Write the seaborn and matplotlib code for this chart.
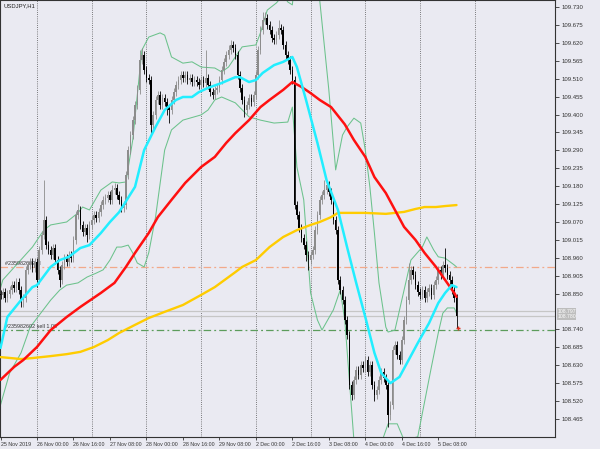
import numpy as np
import pandas as pd
import matplotlib
matplotlib.use("Agg")
import matplotlib.pyplot as plt
import matplotlib.transforms as mtransforms
import seaborn as sns

# ---------------- data (USDJPY, H1) ----------------
closes = [108.846,108.855,108.837,108.849,108.861,108.876,108.867,108.886,108.861,108.830,
108.837,108.923,108.938,108.947,108.929,108.947,108.892,108.984,109.030,109.076,
108.999,108.984,108.969,108.990,108.953,108.923,108.892,108.938,108.959,108.947,
108.969,108.959,109.015,109.092,109.107,109.061,109.039,109.052,109.030,109.061,
109.076,109.092,109.082,109.101,109.122,109.138,109.144,109.153,109.138,109.168,
109.175,109.153,109.138,109.113,109.122,109.214,109.291,109.337,109.383,109.429,
109.476,109.568,109.583,109.537,109.512,109.506,109.368,109.399,109.445,109.460,
109.429,109.451,109.439,109.420,109.414,109.445,109.469,109.491,109.506,109.522,
109.512,109.522,109.506,109.512,109.500,109.506,109.500,109.491,109.506,109.497,
109.512,109.491,109.469,109.460,109.476,109.482,109.506,109.537,109.562,109.583,
109.598,109.614,109.605,109.583,109.522,109.482,109.445,109.414,109.429,109.451,
109.439,109.460,109.522,109.598,109.660,109.691,109.697,109.675,109.660,109.635,
109.629,109.644,109.666,109.660,109.614,109.583,109.568,109.537,109.506,109.122,
109.092,109.052,109.021,108.999,108.969,108.953,108.969,108.984,109.045,109.092,
109.138,109.153,109.168,109.184,109.162,109.138,109.076,109.045,108.892,108.861,
108.830,108.769,108.723,108.569,108.539,108.585,108.615,108.600,108.631,108.622,
108.646,108.609,108.631,108.569,108.539,108.554,108.585,108.609,108.591,108.569,
108.477,108.508,108.677,108.692,108.662,108.646,108.708,108.769,108.830,108.892,
108.923,108.907,108.876,108.855,108.846,108.861,108.837,108.855,108.867,108.846,
108.876,108.892,108.923,108.907,108.938,108.929,108.907,108.892,108.861,108.837,
108.781]
first_open = 108.850

highs = [108.862,108.867,108.867,108.861,108.873,108.888,108.888,108.898,108.898,108.873,
108.849,108.935,108.950,108.960,108.959,108.959,108.959,108.996,109.042,109.199,
109.088,109.011,108.996,109.002,109.002,108.965,108.935,108.950,108.971,108.971,
108.981,108.981,109.027,109.104,109.125,109.119,109.073,109.064,109.064,109.073,
109.088,109.104,109.104,109.113,109.134,109.150,109.156,109.165,109.165,109.184,
109.190,109.187,109.165,109.150,109.134,109.226,109.303,109.349,109.395,109.441,
109.490,109.598,109.605,109.595,109.549,109.524,109.518,109.411,109.457,109.472,
109.472,109.463,109.463,109.451,109.432,109.457,109.481,109.503,109.518,109.534,
109.534,109.534,109.534,109.524,109.524,109.518,109.518,109.512,109.518,109.518,
109.598,109.524,109.503,109.481,109.488,109.494,109.518,109.549,109.574,109.595,
109.614,109.629,109.626,109.617,109.595,109.534,109.494,109.457,109.441,109.463,
109.463,109.472,109.534,109.610,109.672,109.715,109.715,109.709,109.687,109.672,
109.647,109.656,109.691,109.678,109.672,109.626,109.595,109.580,109.549,109.518,
109.134,109.104,109.064,109.033,109.011,108.981,108.981,108.996,109.057,109.104,
109.150,109.165,109.199,109.196,109.196,109.174,109.150,109.088,109.057,108.904,
108.873,108.842,108.781,108.735,108.581,108.597,108.627,108.627,108.643,108.643,
108.658,108.658,108.643,108.643,108.581,108.566,108.597,108.621,108.621,108.603,
108.581,108.520,108.689,108.704,108.704,108.674,108.720,108.781,108.842,108.944,
108.935,108.935,108.919,108.888,108.867,108.873,108.873,108.867,108.879,108.879,
108.888,108.904,108.935,108.935,108.950,108.990,108.941,108.919,108.904,108.873,
108.849]

lows = [108.834,108.834,108.825,108.825,108.837,108.849,108.855,108.855,108.849,108.809,
108.809,108.825,108.911,108.926,108.917,108.917,108.870,108.880,108.972,109.018,
108.987,108.972,108.957,108.957,108.941,108.911,108.870,108.880,108.926,108.935,
108.935,108.947,108.947,109.003,109.080,109.049,109.027,109.027,109.009,109.018,
109.049,109.064,109.070,109.070,109.089,109.110,109.126,109.132,109.126,109.126,
109.156,109.141,109.126,109.101,109.101,109.110,109.202,109.279,109.325,109.371,
109.417,109.464,109.556,109.525,109.500,109.494,109.337,109.350,109.387,109.433,
109.417,109.417,109.427,109.400,109.375,109.402,109.433,109.457,109.479,109.494,
109.500,109.500,109.494,109.494,109.488,109.488,109.488,109.479,109.479,109.485,
109.485,109.479,109.457,109.448,109.448,109.464,109.470,109.494,109.525,109.550,
109.571,109.586,109.593,109.571,109.510,109.470,109.433,109.394,109.402,109.417,
109.427,109.427,109.448,109.510,109.586,109.648,109.679,109.663,109.648,109.623,
109.617,109.617,109.632,109.648,109.602,109.571,109.556,109.525,109.494,109.110,
109.080,109.040,109.009,108.987,108.950,108.923,108.941,108.957,108.972,109.033,
109.080,109.126,109.141,109.156,109.150,109.126,109.064,109.033,108.880,108.849,
108.818,108.757,108.711,108.557,108.523,108.527,108.573,108.588,108.588,108.610,
108.610,108.597,108.597,108.557,108.520,108.527,108.542,108.573,108.579,108.557,
108.440,108.462,108.496,108.665,108.650,108.634,108.634,108.696,108.757,108.818,
108.880,108.895,108.864,108.843,108.834,108.834,108.825,108.825,108.843,108.834,
108.834,108.864,108.880,108.895,108.895,108.917,108.895,108.880,108.849,108.825,
108.744]

# moving averages / bands (bar index, price)
cyan_bar = [0,3,9,14,16,22,26,30,35,39,44,48,52,59,63,68,72,77,80,84,87,91,97,103,105,
            109,112,115,120,124,128,130,134,139,143,148,152,156,160,164,167,171,175,179,183,188,192,195,198,200]
cyan_val = [108.683,108.778,108.830,108.870,108.876,108.932,108.953,108.963,108.990,108.999,
            109.036,109.070,109.100,109.178,109.291,109.362,109.414,109.445,109.454,109.454,
            109.469,109.482,109.497,109.515,109.515,109.500,109.506,109.528,109.552,109.562,
            109.577,109.546,109.445,109.313,109.199,109.107,108.993,108.883,108.778,108.668,
            108.606,108.575,108.594,108.646,108.698,108.760,108.821,108.852,108.876,108.870]

red_bar = [0,6,10,16,22,29,35,44,50,55,59,65,69,75,81,88,94,99,103,109,114,118,124,128,132,
           136,140,145,151,155,160,164,169,173,177,182,186,191,195,199,200]
red_val = [108.585,108.625,108.646,108.686,108.738,108.778,108.809,108.852,108.883,108.932,
           108.975,109.036,109.085,109.138,109.190,109.239,109.270,109.313,109.343,109.383,
           109.423,109.445,109.476,109.500,109.485,109.466,109.445,109.423,109.370,109.322,
           109.270,109.208,109.159,109.107,109.055,109.015,108.975,108.932,108.892,108.852,108.840]

gold_bar = [0,9,14,22,29,35,41,47,52,59,65,72,80,88,94,103,106,112,118,124,130,136,140,145,148,
            160,169,173,177,182,186,191,195,200]
gold_val = [108.655,108.649,108.652,108.658,108.664,108.671,108.686,108.707,108.729,108.754,
            108.775,108.794,108.815,108.846,108.870,108.916,108.932,108.953,108.993,109.024,
            109.045,109.061,109.070,109.085,109.098,109.098,109.095,109.098,109.101,109.110,
            109.116,109.116,109.119,109.122]

bb_up_bar = [0,1,14,19,22,29,34,36,39,44,49,52,55,58,62,65,70,72,75,80,84,88,94,97,100,103,106,
             112,114,117,121,124,126,128,130,134,138,140,144,147,150,152,155,158,160,162,164,166,
             169,170,173,176,180,185,187,190,192,195,199,200]
bb_up_val = [108.867,108.892,108.993,109.045,109.061,109.070,109.098,109.116,109.107,109.168,
             109.193,109.190,109.193,109.322,109.598,109.638,109.651,109.644,109.577,109.558,
             109.562,109.546,109.543,109.531,109.546,109.577,109.608,109.614,109.651,109.721,
             109.743,109.767,109.746,109.737,109.875,109.936,109.875,109.752,109.476,109.230,
             109.337,109.362,109.389,109.374,109.291,109.178,109.036,108.883,108.747,108.732,
             108.738,108.830,108.953,108.993,109.024,108.984,108.963,108.959,108.938,108.932]

bb_lo_bar = [0,4,9,13,17,22,26,29,34,38,42,45,48,51,53,56,58,60,63,65,68,72,75,80,85,88,91,94,
             97,100,103,109,114,120,126,128,130,133,136,139,141,146,149,151,153,155,160,166,170,
             174,177,183,189,192,194,196,199,200]
bb_lo_val = [108.508,108.606,108.668,108.747,108.784,108.830,108.861,108.876,108.883,108.901,
             108.913,108.923,108.953,108.993,108.993,108.999,108.975,108.944,108.932,108.975,
             109.085,109.291,109.353,109.383,109.393,109.399,109.414,109.445,109.454,109.445,
             109.436,109.393,109.383,109.374,109.377,109.423,109.239,109.138,108.852,108.769,
             108.738,108.800,108.861,108.769,108.585,108.400,108.308,108.370,108.450,108.450,
             108.400,108.410,108.625,108.729,108.790,108.806,108.806,108.790]

# price-axis labels (the 108.795 label is hidden under the ask/bid boxes)
price_ticks = ["108.465","108.520","108.575","108.630","108.685","108.740","108.850",
               "108.905","108.960","109.015","109.070","109.125","109.180","109.235","109.290",
               "109.345","109.400","109.455","109.510","109.565","109.620","109.675","109.730"]
time_tick_bars = [0,16,32,48,64,80,96,112,128,144,160,176,192]
time_tick_labels = ["25 Nov 2019","26 Nov 00:00","26 Nov 16:00","27 Nov 08:00","28 Nov 00:00",
                    "28 Nov 16:00","29 Nov 08:00","2 Dec 00:00","2 Dec 16:00","3 Dec 08:00",
                    "4 Dec 00:00","4 Dec 16:00","5 Dec 08:00"]
day_grid_bars = [16,40,64,88,112,136,160,184,208]

ask_price, bid_price = 108.797, 108.780
sl_price, entry_price = 108.931, 108.737
sl_label, entry_label = "#235982602 sl", "#235982602 sell 1.00"
trade_mark_bar, trade_mark_price = [200.6], [108.744]
symbol_label = "USDJPY,H1"

# ---------------- drawing ----------------
sns.set_theme(style="darkgrid")
plt.rcParams['font.family'] = ['Liberation Sans', 'DejaVu Sans']
BG = '#EAEAF2'

fig = plt.figure(figsize=(6, 4.49), dpi=100, facecolor=BG)
ax = fig.add_axes([0, 12/449, 555/600, 437/449])
ax.set_facecolor(BG)
ax.grid(False)

n = len(closes)
bars = np.arange(n)
c = np.array(closes)
o = np.array([first_open] + closes[:-1])
up = c >= o
cols = np.where(up, '#8c8c8c', '#000000')

for b in day_grid_bars:
    ax.axvline(b, color='#555555', lw=0.6, ls=(0, (1, 1.6)), zorder=1)

ax.axhline(ask_price, color='#c6c6c6', lw=0.9, zorder=1)
ax.axhline(bid_price, color='#c6c6c6', lw=0.9, zorder=1)
ax.axhline(sl_price, color='#f2a98a', lw=0.9, ls=(0, (6, 2.5, 1.5, 2.5)), zorder=1)
ax.axhline(entry_price, color='#5c9c5c', lw=0.9, ls=(0, (6, 2.5, 1.5, 2.5)), zorder=1)

bb_color = '#6cc28c'
sns.lineplot(x=bb_up_bar, y=bb_up_val, color=bb_color, lw=0.75, ax=ax, sort=False, zorder=2)
sns.lineplot(x=bb_lo_bar, y=bb_lo_val, color=bb_color, lw=0.75, ax=ax, sort=False, zorder=2)

ax.vlines(bars, lows, highs, colors=cols, lw=0.6, zorder=3)
ax.bar(bars, np.maximum(np.abs(c - o), 0.002), bottom=np.minimum(o, c), width=0.7,
       color=cols, lw=0, zorder=3)

sns.lineplot(x=gold_bar, y=gold_val, color='#ffcc00', lw=1.7, ax=ax, sort=False, zorder=4)
sns.lineplot(x=red_bar, y=red_val, color='#ff1010', lw=1.8, ax=ax, sort=False, zorder=4)
sns.lineplot(x=cyan_bar, y=cyan_val, color='#22eeff', lw=1.8, ax=ax, sort=False, zorder=5)

ax.scatter(trade_mark_bar, trade_mark_price, marker='+', s=10, color='#e03020', lw=1.0, zorder=6)

ax.set_xlim(-0.22, 243.2)
ax.set_ylim(108.4095, 109.752)

# right price axis
ax.yaxis.tick_right()
ax.set_yticks([float(t) for t in price_ticks])
ax.set_yticklabels(price_ticks)
ax.tick_params(axis='y', direction='out', length=3, width=0.6, pad=1.5, labelsize=4.3,
               colors='#333333', right=True, left=False)
ax.set_ylabel('')

# bottom time axis
ax.set_xticks(time_tick_bars)
ax.set_xticklabels(time_tick_labels, ha='left')
ax.tick_params(axis='x', direction='out', length=2.5, width=0.6, pad=1.2, labelsize=3.8,
               colors='#333333', bottom=True)
ax.set_xlabel('')

for s in ax.spines.values():
    s.set_visible(True)
    s.set_color('#333333')
    s.set_linewidth(0.8)

# current ask / bid price boxes, stacked next to each other on the price axis
trans = mtransforms.blended_transform_factory(ax.transAxes, ax.transData)
mid_price = (ask_price + bid_price) / 2
box = dict(boxstyle='square,pad=0.12', fc='#bdbdbd', ec='none')
ax.text(1.004, mid_price, f"{ask_price:.3f}", transform=trans, fontsize=3.7, color='white',
        va='bottom', ha='left', zorder=7, clip_on=False, bbox=box)
ax.text(1.004, mid_price - 0.0025, f"{bid_price:.3f}", transform=trans, fontsize=3.7, color='white',
        va='top', ha='left', zorder=7, clip_on=False, bbox=box)

ax.text(2, sl_price + 0.003, sl_label, fontsize=3.9, color='#333333', va='bottom', ha='left', zorder=2)
ax.text(2, entry_price + 0.003, entry_label, fontsize=3.9, color='#333333', va='bottom', ha='left', zorder=2)
ax.text(0.006, 0.993, symbol_label, transform=ax.transAxes, fontsize=4.2, color='#222222',
        va='top', ha='left')

fig.savefig('out.png', dpi=100, facecolor=BG)
